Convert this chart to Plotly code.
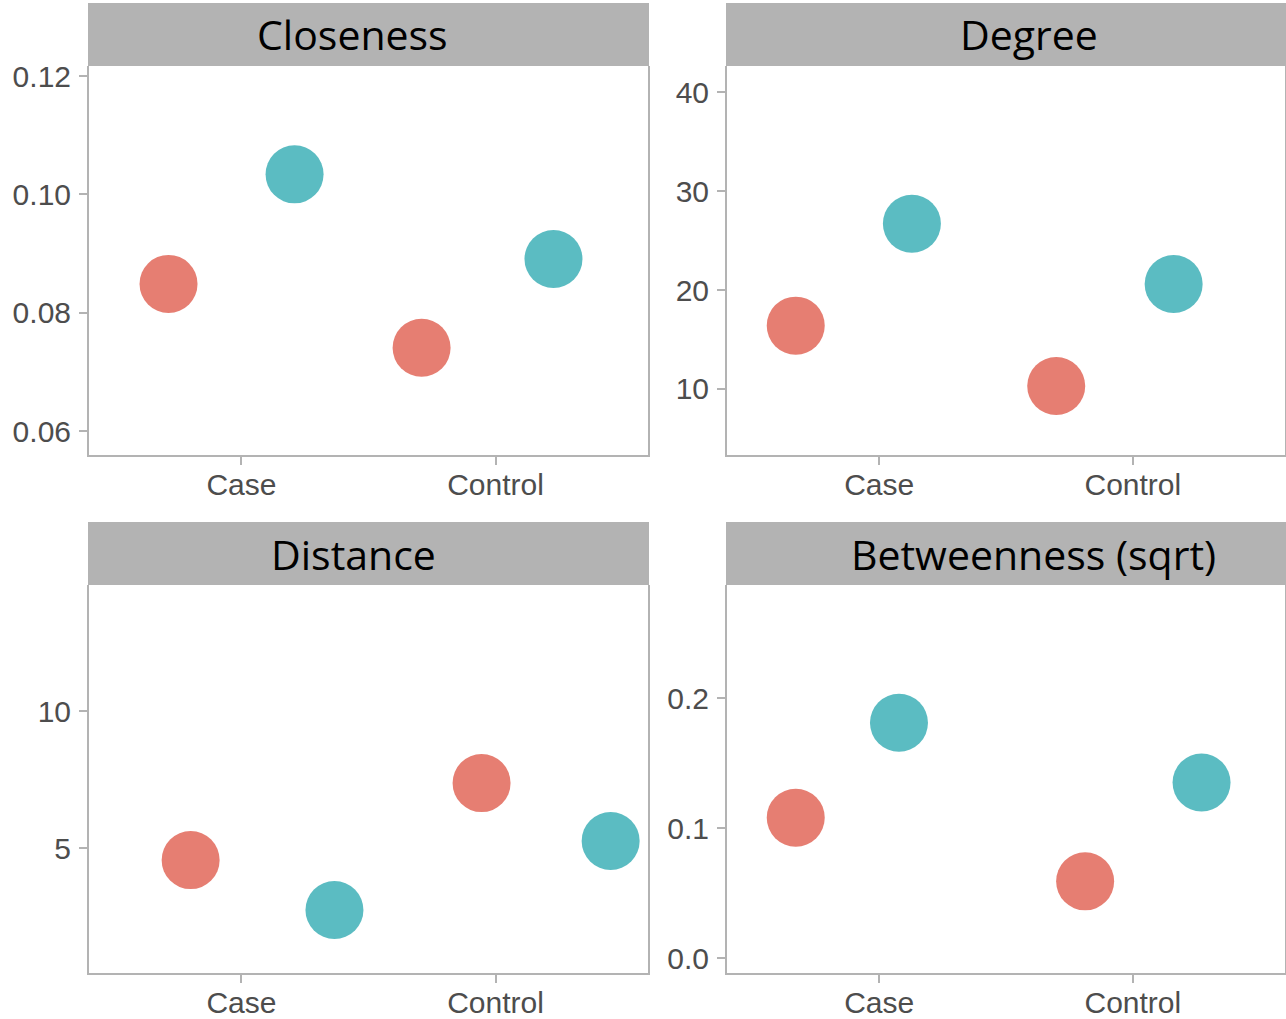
import plotly.graph_objects as go

# Group categories on the x axis
groups = ["Case", "Control"]
metrics = ["Closeness", "Degree", "Distance", "Betweenness (sqrt)"]

# Values per metric: first series (red) and second series (teal), ordered as groups
red_closeness = [0.0849, 0.0741]
teal_closeness = [0.1034, 0.0891]
red_degree = [16.4, 10.3]
teal_degree = [26.7, 20.6]
red_distance = [4.56, 7.37]
teal_distance = [2.74, 5.26]
red_betweenness = [0.108, 0.059]
teal_betweenness = [0.181, 0.135]

# Horizontal jitter applied to each point (in category units)
red_jitter_closeness = [-0.287, -0.291]
teal_jitter_closeness = [0.209, 0.228]
red_jitter_degree = [-0.329, -0.302]
teal_jitter_degree = [0.129, 0.161]
red_jitter_distance = [-0.200, -0.055]
teal_jitter_distance = [0.366, 0.453]
red_jitter_betweenness = [-0.329, -0.188]
teal_jitter_betweenness = [0.078, 0.271]

# Y tick values per panel
ticks_closeness = [0.06, 0.08, 0.10, 0.12]
ticks_degree = [10, 20, 30, 40]
ticks_distance = [5, 10]
ticks_betweenness = [0.0, 0.1, 0.2]

RED = "#E67E72"
TEAL = "#5BBCC2"
GRID = "#B3B3B3"
W, H = 1286, 1019

panels = [
    dict(title=metrics[0], red=red_closeness, teal=teal_closeness,
         rj=red_jitter_closeness, tj=teal_jitter_closeness,
         ticks=ticks_closeness, fmt=".2f", yr=[0.0560, 0.1217],
         px=(89, 648), py=(66, 455), strip=(3, 66), tx=352),
    dict(title=metrics[1], red=red_degree, teal=teal_degree,
         rj=red_jitter_degree, tj=teal_jitter_degree,
         ticks=ticks_degree, fmt="d", yr=[3.33, 42.63],
         px=(727, 1285), py=(66, 455), strip=(3, 66), tx=1029),
    dict(title=metrics[2], red=red_distance, teal=teal_distance,
         rj=red_jitter_distance, tj=teal_jitter_distance,
         ticks=ticks_distance, fmt="d", yr=[0.44, 14.6],
         px=(89, 648), py=(585, 973), strip=(522, 585), tx=353),
    dict(title=metrics[3], red=red_betweenness, teal=teal_betweenness,
         rj=red_jitter_betweenness, tj=teal_jitter_betweenness,
         ticks=ticks_betweenness, fmt=".1f", yr=[-0.0115, 0.287],
         px=(727, 1285), py=(585, 973), strip=(522, 585), tx=1033),
]

fig = go.Figure()
shapes = []
annotations = []
layout_axes = {}

base_pos = [1, 2]
tick_font = dict(family="Liberation Sans", size=30, color="#4D4D4D")

for i, p in enumerate(panels, start=1):
    xa = "x" if i == 1 else f"x{i}"
    ya = "y" if i == 1 else f"y{i}"
    xkey = "xaxis" if i == 1 else f"xaxis{i}"
    ykey = "yaxis" if i == 1 else f"yaxis{i}"

    for vals, jit, col in ((p["red"], p["rj"], RED), (p["teal"], p["tj"], TEAL)):
        fig.add_trace(go.Scatter(
            x=[b + j for b, j in zip(base_pos, jit)], y=vals,
            mode="markers", xaxis=xa, yaxis=ya, showlegend=False,
            marker=dict(size=58, color=col, line=dict(width=0)),
        ))

    x0, x1 = p["px"]
    y0, y1 = p["py"]
    layout_axes[xkey] = dict(
        domain=[x0 / W, x1 / W], anchor=ya, range=[0.4, 2.6],
        tickmode="array", tickvals=base_pos, ticktext=groups,
        showgrid=False, zeroline=False, showline=True, linecolor=GRID,
        linewidth=2, ticks="outside", ticklen=8, tickwidth=1.5,
        tickcolor=GRID, tickfont=tick_font, automargin=False,
        ticklabelstandoff=-6,
    )
    layout_axes[ykey] = dict(
        domain=[1 - y1 / H, 1 - y0 / H], anchor=xa, range=p["yr"],
        tickmode="array", tickvals=p["ticks"], tickformat=p["fmt"],
        showgrid=False, zeroline=False, showline=True, mirror=True,
        linecolor=GRID, linewidth=2, ticks="outside", ticklen=8,
        tickwidth=1.5, tickcolor=GRID, tickfont=tick_font, automargin=False,
        ticklabelstandoff=2,
    )

    s0, s1 = p["strip"]
    shapes.append(dict(
        type="rect", xref="paper", yref="paper",
        x0=(x0 - 1) / W, x1=(x1 + 1) / W, y0=1 - s1 / H, y1=1 - s0 / H,
        fillcolor="#B3B3B3", line=dict(width=0), layer="above",
    ))
    annotations.append(dict(
        text=p["title"], xref="paper", yref="paper",
        x=p["tx"] / W, y=1 - (s0 + s1) / 2 / H,
        xanchor="center", yanchor="middle", showarrow=False,
        font=dict(family="Open Sans", size=41, color="#000000"),
    ))

fig.update_layout(
    template="none",
    width=W, height=H, margin=dict(l=0, r=0, t=0, b=0, autoexpand=False),
    paper_bgcolor="white", plot_bgcolor="white",
    shapes=shapes, annotations=annotations, **layout_axes,
)

fig.write_html("out.html")
